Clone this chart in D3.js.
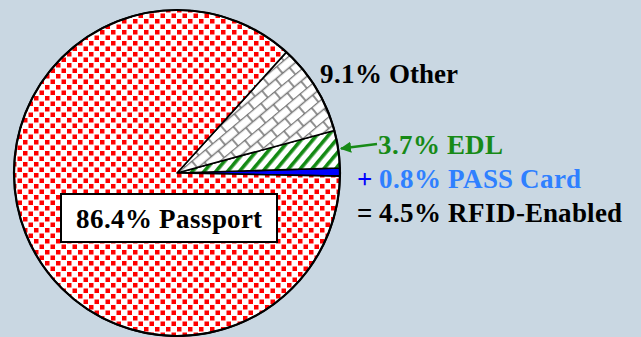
<!DOCTYPE html>
<html><head><meta charset="utf-8">
<script src="https://cdn.jsdelivr.net/npm/d3@7"></script>
<style>
@font-face { font-family: "ChartSerif"; src: local("Liberation Serif Bold"), local("LiberationSerif-Bold"), local("Liberation Serif"); font-weight: bold; }
</style>
</head><body style="margin:0;background:#c9d7e2">
<script>
const categories = ["PASS Card", "EDL", "Other", "Passport"];
const values = [0.8, 3.7, 9.1, 86.4];
const fills = ["url(#solidBlue)", "url(#stripes)", "url(#bricks)", "url(#confetti)"];
const rfidLabel = "RFID-Enabled";

const W = 641, H = 337;
const FONT = '"ChartSerif", "Liberation Serif"';
const svg = d3.select("body").append("svg").attr("width", W).attr("height", H).style("display", "block");
svg.append("rect").attr("width", W).attr("height", H).attr("fill", "#c9d7e2");

const defs = svg.append("defs");
// confetti red squares
const pc = defs.append("pattern").attr("id", "confetti").attr("patternUnits", "userSpaceOnUse")
  .attr("width", 11).attr("height", 11);
pc.append("rect").attr("width", 11).attr("height", 11).attr("fill", "#fff");
pc.append("rect").attr("x", 0).attr("y", 0).attr("width", 4.5).attr("height", 4.5).attr("fill", "#ff0000");
pc.append("rect").attr("x", 5.5).attr("y", 5.5).attr("width", 4.5).attr("height", 4.5).attr("fill", "#ff0000");
// diagonal bricks
const pb = defs.append("pattern").attr("id", "bricks").attr("patternUnits", "userSpaceOnUse")
  .attr("width", 18).attr("height", 18).attr("patternTransform", "rotate(-40)");
pb.append("rect").attr("width", 18).attr("height", 18).attr("fill", "#fff");
pb.append("path").attr("d", "M0,0.5H18M0,9.5H18M1,0.5V9.5M10,9.5V18.5")
  .attr("stroke", "#777").attr("stroke-width", 1.6).attr("fill", "none");
// green stripes
const ps = defs.append("pattern").attr("id", "stripes").attr("patternUnits", "userSpaceOnUse")
  .attr("width", 9).attr("height", 9).attr("patternTransform", "rotate(40)");
ps.append("rect").attr("width", 9).attr("height", 9).attr("fill", "#fff");
ps.append("rect").attr("x", 0).attr("y", 0).attr("width", 3.6).attr("height", 9).attr("fill", "#138a13");
// solid blue
const pbl = defs.append("pattern").attr("id", "solidBlue").attr("patternUnits", "userSpaceOnUse")
  .attr("width", 4).attr("height", 4);
pbl.append("rect").attr("width", 4).attr("height", 4).attr("fill", "#0000ff");

defs.append("marker").attr("id", "arrowG").attr("viewBox", "0 0 10 10")
  .attr("refX", 9).attr("refY", 5).attr("markerWidth", 4.5).attr("markerHeight", 4.5)
  .attr("orient", "auto")
  .append("path").attr("d", "M0,0L10,5L0,10Z").attr("fill", "#178a17");

const cx = 177, cy = 173, r = 163;
const start = Math.PI / 2 + 1.1 * Math.PI / 180;
const pie = d3.pie().sort(null).value(d => d).startAngle(start).endAngle(start - 2 * Math.PI);
const arc = d3.arc().innerRadius(0).outerRadius(r);
const g = svg.append("g").attr("transform", `translate(${cx},${cy})`);
g.selectAll("path.slice").data(pie(values)).enter().append("path")
  .attr("class", "slice")
  .attr("d", arc)
  .attr("fill", (d, i) => fills[i])
  .attr("stroke", "#000").attr("stroke-width", 1.6).attr("stroke-linejoin", "round");
g.append("circle").attr("r", r).attr("fill", "none").attr("stroke", "#000").attr("stroke-width", 2.2);

const fs = 27;
function label(x, y, parts) {
  const t = svg.append("text").attr("x", x).attr("y", y)
    .style("font-family", FONT).style("font-weight", "bold").style("font-size", fs + "px");
  parts.forEach(p => t.append("tspan").attr("fill", p[1]).text(p[0]));
  return t;
}
const pct = v => v.toFixed(1) + "%";
label(320, 83, [[pct(values[2]) + " " + categories[2], "#000"]]);
label(378, 154, [[pct(values[1]) + " " + categories[1], "#178a17"]]);
label(357, 188, [["+ ", "#0000ff"], [pct(values[0]) + " " + categories[0], "#2f80ff"]]);
label(357, 222, [["= " + pct(values[0] + values[1]) + " " + rfidLabel, "#000"]]);

svg.append("line").attr("x1", 377).attr("y1", 144).attr("x2", 341).attr("y2", 148.5)
  .attr("stroke", "#178a17").attr("stroke-width", 2.5).attr("marker-end", "url(#arrowG)");

svg.append("rect").attr("x", 61).attr("y", 194).attr("width", 216).attr("height", 48)
  .attr("fill", "#fff").attr("stroke", "#000").attr("stroke-width", 2);
svg.append("text").attr("x", 169).attr("y", 228).attr("text-anchor", "middle")
  .style("font-family", FONT).style("font-weight", "bold").style("font-size", fs + "px")
  .attr("fill", "#000").text(pct(values[3]) + " " + categories[3]);
</script>
</body></html>
